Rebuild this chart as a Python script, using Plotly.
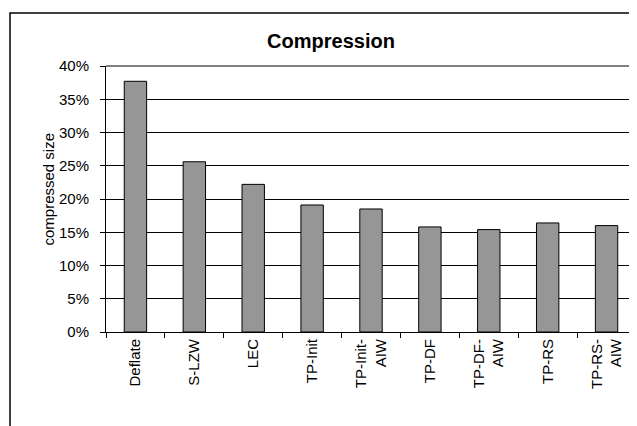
import plotly.graph_objects as go

# data
methods = ["Deflate", "S-LZW", "LEC", "TP-Init", "TP-Init-<br>AIW",
           "TP-DF", "TP-DF-<br>AIW", "TP-RS", "TP-RS-<br>AIW"]
compressed_size = [0.377, 0.256, 0.222, 0.191, 0.185, 0.158, 0.154, 0.164, 0.160]

FONT = "Liberation Sans, Arial, sans-serif"

# the page puts the figure 8px in from the top-left corner,
# so every reference pixel position is shifted by -8 here
OFF = 8
W, H = 637 - OFF, 426 - OFF
L = 106 - OFF
T = 66 - OFF
R = W - (636 - OFF)
B = H - (332 - OFF)
pw, ph = W - L - R, H - T - B
y0_px = 332 - OFF  # pixel row of 0%

fig = go.Figure(go.Bar(
    x=methods,
    y=compressed_size,
    marker=dict(color="#969696", line=dict(color="#000000", width=1)),
    width=0.38,
))

fig.update_layout(
    width=W, height=H,
    margin=dict(l=L, r=R, t=T, b=B),
    paper_bgcolor="white",
    plot_bgcolor="white",
    font=dict(family=FONT, size=15, color="#000000"),
    showlegend=False,
    title=dict(text="<b>Compression</b>", x=(331 - OFF) / W, xanchor="center",
               y=1 - (41 - OFF) / H, yanchor="middle",
               font=dict(family=FONT, size=20, color="#000000")),
    xaxis=dict(
        showgrid=False,
        showline=True, linecolor="#000000", linewidth=1,
        ticks="outside", ticklen=5, tickcolor="#000000", tickson="boundaries",
        tickangle=-90,
        tickfont=dict(family=FONT, size=15),
    ),
    yaxis=dict(
        range=[0, 0.40], dtick=0.05, tickformat=".0%",
        showgrid=True, gridcolor="#000000", gridwidth=1,
        showline=True, linecolor="#000000", linewidth=1,
        ticks="outside", ticklen=5, tickcolor="#000000",
        ticklabelstandoff=8,
        tickfont=dict(family=FONT, size=15),
        zeroline=False,
    ),
)

# y axis title placed where the reference has it
fig.add_annotation(
    text="compressed size", textangle=-90, showarrow=False,
    xref="paper", yref="paper",
    x=(47.5 - OFF - L) / pw, y=(y0_px - (189 - OFF)) / ph,
    xanchor="center", yanchor="middle",
    font=dict(family=FONT, size=15, color="#000000"),
)

# plot area border on top and right
fig.add_shape(type="line", xref="paper", yref="paper", x0=0, x1=1, y0=1, y1=1,
              line=dict(color="#000000", width=1))
fig.add_shape(type="line", xref="paper", yref="paper", x0=1, x1=1, y0=0, y1=1,
              line=dict(color="#000000", width=1))

# outer chart frame (runs off the right and bottom of the picture)
fig.add_shape(type="rect", xref="paper", yref="paper",
              x0=(10 - OFF - L) / pw, x1=1.2, y0=-0.8, y1=(y0_px - (13 - OFF)) / ph,
              line=dict(color="#000000", width=1.5))

fig.write_html("out.html")
